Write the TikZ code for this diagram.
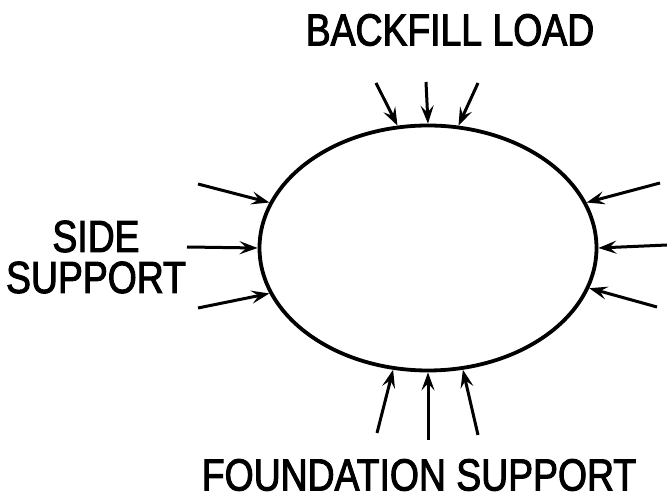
\documentclass[tikz,border=0pt]{standalone}
\usepackage{fontspec}
\newfontfamily\letterfont[FakeStretch=0.83,FakeBold=2.2]{Liberation Sans}
\usetikzlibrary{arrows.meta,shapes.geometric}

\begin{document}
\begin{tikzpicture}[x=1pt,y=-1pt,semithick]
 \tikzstyle{load}=[-{Stealth[length=18pt,width=13pt,inset=7pt]}, line width=3pt]
 \tikzstyle{lbl}=[font=\letterfont\fontsize{45}{41}\selectfont, inner sep=0pt, align=center]
 \useasboundingbox (0,0) rectangle (667,502);

 \node[draw, ellipse, line width=3.8pt, minimum width=337pt, minimum height=245pt, inner sep=0pt] (pipe) at (428,248) {};

 % tails of the load arrows
 \coordinate (top1) at (376,83);
 \coordinate (top2) at (426,82);
 \coordinate (top3) at (478,83);
 \coordinate (left1) at (198,184);
 \coordinate (left2) at (187,247);
 \coordinate (left3) at (198,308);
 \coordinate (right1) at (660,183);
 \coordinate (right2) at (667,245);
 \coordinate (right3) at (657,307);
 \coordinate (bot1) at (377,433);
 \coordinate (bot2) at (428,440);
 \coordinate (bot3) at (478,435);

 \draw[load] (top1) -- (pipe.104);
 \draw[load] (top2) -- (pipe.90);
 \draw[load] (top3) -- (pipe.76);
 \draw[load] (left1) -- (pipe.164);
 \draw[load] (left2) -- (pipe.180);
 \draw[load] (left3) -- (pipe.196);
 \draw[load] (right1) -- (pipe.16);
 \draw[load] (right2) -- (pipe.0);
 \draw[load] (right3) -- (pipe.-14);
 \draw[load] (bot1) -- (pipe.254);
 \draw[load] (bot2) -- (pipe.270);
 \draw[load] (bot3) -- (pipe.286);

 \node[lbl] (backfill) at (450,30) {BACKFILL LOAD};
 \node[lbl] (side) at (96,257) {SIDE\\SUPPORT};
 \node[lbl] (foundation) at (419,475) {FOUNDATION SUPPORT};
\end{tikzpicture}
\end{document}
